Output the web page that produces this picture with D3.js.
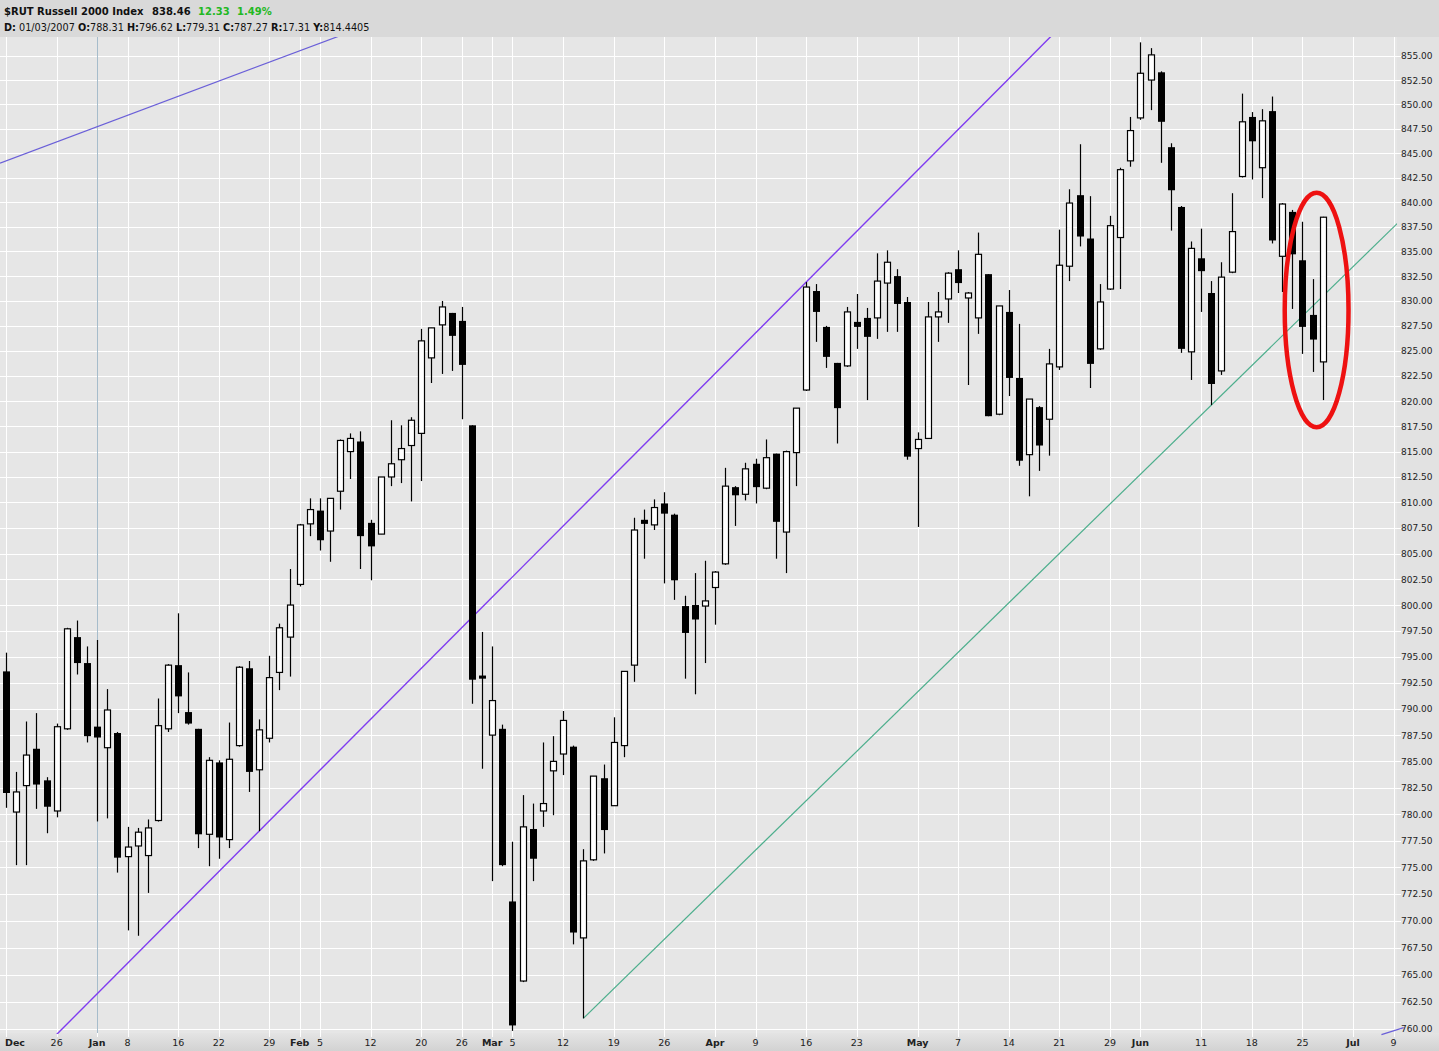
<!DOCTYPE html>
<html><head><meta charset="utf-8">
<script src="https://cdn.jsdelivr.net/npm/d3@7"></script>
<style>body{margin:0;background:#fff;}svg{display:block;}</style>
</head><body>
<svg id="chart" width="1439" height="1051"></svg>
<script>
// ---------------- DATA ----------------
const dates = [
"2006-12-18","2006-12-19","2006-12-20","2006-12-21","2006-12-22","2006-12-26","2006-12-27","2006-12-28","2006-12-29",
"2007-01-03","2007-01-04","2007-01-05","2007-01-08","2007-01-09","2007-01-10","2007-01-11","2007-01-12","2007-01-16","2007-01-17","2007-01-18","2007-01-19","2007-01-22","2007-01-23","2007-01-24","2007-01-25","2007-01-26","2007-01-29","2007-01-30","2007-01-31",
"2007-02-01","2007-02-02","2007-02-05","2007-02-06","2007-02-07","2007-02-08","2007-02-09","2007-02-12","2007-02-13","2007-02-14","2007-02-15","2007-02-16","2007-02-20","2007-02-21","2007-02-22","2007-02-23","2007-02-26","2007-02-27","2007-02-28",
"2007-03-01","2007-03-02","2007-03-05","2007-03-06","2007-03-07","2007-03-08","2007-03-09","2007-03-12","2007-03-13","2007-03-14","2007-03-15","2007-03-16","2007-03-19","2007-03-20","2007-03-21","2007-03-22","2007-03-23","2007-03-26","2007-03-27","2007-03-28","2007-03-29","2007-03-30",
"2007-04-02","2007-04-03","2007-04-04","2007-04-05","2007-04-09","2007-04-10","2007-04-11","2007-04-12","2007-04-13","2007-04-16","2007-04-17","2007-04-18","2007-04-19","2007-04-20","2007-04-23","2007-04-24","2007-04-25","2007-04-26","2007-04-27","2007-04-30",
"2007-05-01","2007-05-02","2007-05-03","2007-05-04","2007-05-07","2007-05-08","2007-05-09","2007-05-10","2007-05-11","2007-05-14","2007-05-15","2007-05-16","2007-05-17","2007-05-18","2007-05-21","2007-05-22","2007-05-23","2007-05-24","2007-05-25","2007-05-29","2007-05-30","2007-05-31",
"2007-06-01","2007-06-04","2007-06-05","2007-06-06","2007-06-07","2007-06-08","2007-06-11","2007-06-12","2007-06-13","2007-06-14","2007-06-15","2007-06-18","2007-06-19","2007-06-20","2007-06-21","2007-06-22","2007-06-25","2007-06-26","2007-06-27"
];
const open = [793.6,780.2,782.7,786.2,783.2,780.3,788.1,796.9,794.4,
788.31,786.3,787.7,776.0,777.0,776.1,779.4,788.1,794.2,789.7,788.1,778.1,784.9,777.6,786.5,793.9,784.2,787.2,793.5,796.9,
802.0,807.9,809.2,807.2,811.1,815.0,816.0,808.0,806.9,812.5,814.2,815.6,816.8,824.3,827.6,828.8,828.0,817.6,793.2,
787.5,788.1,771.8,764.4,778.6,780.3,784.1,785.7,786.4,768.4,775.7,783.4,780.8,786.5,794.2,808.3,807.8,809.9,808.8,799.9,800.0,799.9,
801.7,804.0,811.5,810.8,813.8,811.4,814.8,807.1,814.9,821.1,831.0,827.4,823.8,823.5,827.9,828.3,828.3,831.8,832.5,829.9,
815.3,816.3,828.4,830.2,833.2,830.3,828.3,832.7,818.7,828.9,822.3,814.7,819.4,818.2,823.4,833.5,840.7,836.3,825.2,831.2,836.4,844.2,
848.6,852.5,853.3,845.6,839.5,824.9,834.3,830.8,823.0,832.9,842.6,848.7,843.5,849.3,834.5,839.0,834.1,828.6,823.9];
const high = [795.4,784.0,788.8,789.6,783.5,788.6,797.8,798.5,796.0,
796.62,791.9,787.8,778.8,778.7,779.5,791.0,794.3,799.2,793.5,788.1,785.4,785.1,788.7,794.1,794.6,789.0,795.1,798.2,803.5,
807.9,810.4,810.4,810.4,816.2,816.8,817.0,808.3,812.5,818.1,817.6,818.4,827.2,827.3,830.0,828.8,829.4,817.6,797.4,
796.0,788.5,777.4,781.8,781.0,786.8,787.4,789.8,786.5,776.7,783.6,784.7,789.2,793.6,808.5,809.3,810.3,811.0,808.9,800.9,803.1,804.3,
803.3,813.4,811.6,813.9,814.3,816.2,814.8,815.1,819.3,831.9,831.7,827.5,823.8,829.4,830.7,829.3,834.8,835.1,833.2,830.4,
816.9,829.9,830.9,832.9,835.1,830.9,836.9,832.7,829.5,831.1,827.7,820.2,819.5,825.2,837.2,841.3,845.9,840.6,831.7,838.6,843.5,848.7,
856.4,855.8,853.4,846.0,839.6,836.0,837.3,832.0,833.9,840.9,851.1,849.2,849.5,850.8,839.9,839.2,838.0,832.2,838.5];
const low = [780.6,775.2,775.2,780.5,778.2,779.7,788.0,793.3,786.8,
779.31,779.6,774.5,769.1,768.6,772.6,779.3,787.8,789.6,788.5,776.8,775.1,775.8,776.8,786.4,782.1,778.4,786.8,791.8,793.1,
801.8,806.7,805.3,804.2,809.3,812.3,803.5,802.4,806.9,811.6,811.9,810.1,812.1,821.8,822.7,823.0,818.2,790.5,784.3,
773.7,775.1,759.8,764.3,773.7,778.8,779.9,783.7,767.8,760.95,775.6,776.3,780.8,785.4,792.6,804.5,807.3,802.1,800.5,792.9,791.4,794.4,
798.1,803.9,807.7,810.2,809.9,811.3,804.5,803.1,811.6,821.0,825.9,823.3,815.8,823.4,825.2,820.1,826.2,826.9,826.9,814.2,
807.6,816.3,825.9,827.8,830.8,821.6,826.7,818.5,818.6,820.5,813.6,810.6,813.1,814.6,823.1,832.0,835.5,821.3,825.1,831.1,831.2,843.6,
848.4,849.4,844.0,837.1,824.8,822.1,828.9,819.6,822.6,832.8,842.5,842.3,840.4,835.8,830.9,829.2,824.7,822.9,820.1];
const close = [782.0,782.1,785.6,782.8,780.7,788.3,797.7,794.4,787.4,
787.27,789.9,775.9,776.9,778.3,778.7,788.4,794.2,791.2,788.6,778.1,785.1,777.8,785.2,794.0,784.0,788.0,793.0,797.8,800.0,
807.8,809.3,806.3,810.4,816.1,816.3,806.7,805.7,812.5,813.8,815.3,818.1,826.0,827.3,829.4,826.5,823.6,792.8,792.9,
790.8,775.2,760.3,778.8,775.8,781.0,785.0,788.9,768.9,775.6,783.6,778.5,786.8,793.6,807.3,807.9,809.5,808.9,802.4,797.3,798.6,800.4,
803.2,811.6,810.7,813.3,811.5,814.4,808.1,815.0,819.3,831.4,828.9,824.4,819.3,828.9,827.4,826.4,832.0,833.9,829.7,814.5,
816.2,828.4,828.9,832.8,831.8,830.8,834.7,818.5,829.5,822.3,814.1,820.2,815.6,823.7,833.6,839.9,836.5,823.7,829.9,837.6,843.3,847.3,
853.2,855.1,848.2,841.2,825.2,835.3,833.0,821.7,832.4,837.0,848.2,846.2,848.3,836.1,839.8,834.7,827.4,826.13,838.46];

// x-axis ticks: trading-day index, label, month flag
const xTickIndex = [0,5,9,12,17,21,26,29,31,36,41,45,48,50,55,60,65,70,74,79,84,90,94,99,104,109,112,118,123,128,133,137];
const xTickLabel = ["Dec","26","Jan","8","16","22","29","Feb","5","12","20","26","Mar","5","12","19","26","Apr","9","16","23","May","7","14","21","29","Jun","11","18","25","Jul","9"];
const xTickMonth = [1,0,1,0,0,0,0,1,0,0,0,0,1,0,0,0,0,1,0,0,0,1,0,0,0,0,1,0,0,0,1,0];
// y-axis ticks
const yTicks = [760,762.5,765,767.5,770,772.5,775,777.5,780,782.5,785,787.5,790,792.5,795,797.5,800,802.5,805,807.5,810,812.5,815,817.5,820,822.5,825,827.5,830,832.5,835,837.5,840,842.5,845,847.5,850,852.5,855];
// trend lines (index, value anchors)
const purpleLine = [[25,778.4],[79,831.9]];
const greenLine = [[57,760.95],[119,819.6]];
const channelTopLine = [[0,844.2],[32,856.7]];
const channelBottomLine = [[135.8,759.45],[138.0,760.1]];
// annotation ellipse (index range, value range)
const ellipseIdx = [126.25, 132.55];
const ellipseVal = [840.95, 817.4];
const selectedIndex = 9;

// header
const headerTitle = "$RUT Russell 2000 Index";
const headerLast = "838.46", headerChg = "12.33", headerPct = "1.49%";
const headerInfo = [["D:"," 01/03/2007 "],["O:","788.31 "],["H:","796.62 "],["L:","779.31 "],["C:","787.27 "],["R:","17.31 "],["Y:","814.4405"]];

// ---------------- DRAW ----------------
const W = 1439, H = 1051;
const plotL = 0, plotR = 1397, plotT = 37, plotB = 1033;
const svg = d3.select("#chart");
const x = d3.scaleLinear().domain([0,130]).range([6,1322.7]);
const y = d3.scaleLog().domain([760,850]).range([1028.7,104.3]);

svg.append("rect").attr("width",W).attr("height",H).attr("fill","#dedede");
svg.append("rect").attr("x",0).attr("y",0).attr("width",W).attr("height",plotT).attr("fill","#d9d9d9");
svg.append("rect").attr("x",plotL).attr("y",plotT).attr("width",plotR-plotL).attr("height",plotB-plotT).attr("fill","#e6e6e6");
svg.append("rect").attr("x",plotR).attr("y",plotT).attr("width",W-plotR).attr("height",plotB-plotT).attr("fill","#e2e2e2");
const defs = svg.append("defs");
const grad = defs.append("linearGradient").attr("id","bg").attr("x1",0).attr("y1",0).attr("x2",0).attr("y2",1);
grad.append("stop").attr("offset","0%").attr("stop-color","#e4e4e4");
grad.append("stop").attr("offset","100%").attr("stop-color","#d2d2d2");
svg.append("rect").attr("x",0).attr("y",plotB).attr("width",W).attr("height",H-plotB).attr("fill","url(#bg)");

defs.append("clipPath").attr("id","clip").append("rect")
  .attr("x",plotL).attr("y",plotT).attr("width",plotR-plotL).attr("height",plotB-plotT+1);

// gridlines
const grid = svg.append("g");
grid.selectAll("line.h").data(yTicks).join("line")
  .attr("x1",plotL).attr("x2",plotR+4)
  .attr("y1",d=>Math.round(y(d))+0.5).attr("y2",d=>Math.round(y(d))+0.5)
  .attr("stroke","#ffffff").attr("stroke-width",1);
grid.selectAll("line.v").data(xTickIndex.filter(i=>x(i)<plotR)).join("line")
  .attr("x1",d=>Math.round(x(d))+0.5).attr("x2",d=>Math.round(x(d))+0.5)
  .attr("y1",plotT).attr("y2",plotB+4)
  .attr("stroke","#ffffff").attr("stroke-width",1);

// y-axis labels
const yAx = svg.append("g");
yAx.selectAll("text").data(yTicks).join("text")
  .attr("x",1401).attr("y",d=>y(d)+3.5)
  .attr("font-family","DejaVu Sans, Verdana, sans-serif").attr("font-size",9)
  .attr("fill","#222").text(d=>d.toFixed(2));

// x-axis labels
const xAx = svg.append("g");
xTickIndex.forEach((idx,k)=>{
  const px = x(idx);
  const t = xAx.append("text")
    .attr("y",1046)
    .attr("font-family","DejaVu Sans, Verdana, sans-serif")
    .attr("font-size",9.5)
    .attr("font-weight",xTickMonth[k]?"bold":"normal")
    .attr("fill","#222").text(xTickLabel[k]);
  if (px < 15) t.attr("x",5).attr("text-anchor","start");
  else t.attr("x",px).attr("text-anchor","middle");
});

const plot = svg.append("g").attr("clip-path","url(#clip)");
plot.append("line").attr("x1",Math.round(x(selectedIndex))+0.5).attr("x2",Math.round(x(selectedIndex))+0.5)
  .attr("y1",plotT).attr("y2",plotB).attr("stroke","#a6bccb").attr("stroke-width",1);

function extLine(anchors, xa, xb, color, w){
  const p1=[x(anchors[0][0]),y(anchors[0][1])], p2=[x(anchors[1][0]),y(anchors[1][1])];
  const m=(p2[1]-p1[1])/(p2[0]-p1[0]);
  const f=px=>p1[1]+m*(px-p1[0]);
  plot.append("line").attr("x1",xa).attr("y1",f(xa)).attr("x2",xb).attr("y2",f(xb))
    .attr("stroke",color).attr("stroke-width",w);
}
extLine(purpleLine, 0, plotR, "#7f3cf0", 1.4);
extLine(greenLine, x(greenLine[0][0]), plotR+2, "#4cae8c", 1.2);
extLine(channelTopLine, 0, 400, "#6a5fd8", 1.2);

// candles
const idx = d3.range(dates.length);
const cg = plot.append("g");
cg.selectAll("line.wick").data(idx).join("line")
  .attr("x1",i=>Math.round(x(i))+0.5).attr("x2",i=>Math.round(x(i))+0.5)
  .attr("y1",i=>y(high[i])).attr("y2",i=>y(low[i]))
  .attr("stroke","#000").attr("stroke-width",1.2);
cg.selectAll("rect.body").data(idx).join("rect")
  .attr("x",i=>Math.round(x(i))-3+(close[i]>=open[i]?0.5:0))
  .attr("width",i=>close[i]>=open[i]?6:7)
  .attr("y",i=>y(Math.max(open[i],close[i])))
  .attr("height",i=>Math.max(1.5,Math.abs(y(open[i])-y(close[i]))))
  .attr("fill",i=>close[i]>=open[i]?"#ffffff":"#000000")
  .attr("stroke",i=>close[i]>=open[i]?"#000":"none").attr("stroke-width",1.2);

{
  const p1=[x(channelBottomLine[0][0]),y(channelBottomLine[0][1])], p2=[x(channelBottomLine[1][0]),y(channelBottomLine[1][1])];
  svg.append("line").attr("x1",p1[0]).attr("y1",p1[1]).attr("x2",p2[0]).attr("y2",p2[1]).attr("stroke","#6a5fd8").attr("stroke-width",1.2);
}

{
  const cx=(x(ellipseIdx[0])+x(ellipseIdx[1]))/2, cy=(y(ellipseVal[0])+y(ellipseVal[1]))/2;
  const rx=(x(ellipseIdx[1])-x(ellipseIdx[0]))/2, ry=(y(ellipseVal[1])-y(ellipseVal[0]))/2;
  svg.append("ellipse").attr("cx",cx).attr("cy",cy).attr("rx",rx).attr("ry",ry)
    .attr("fill","none").attr("stroke","#ee1111").attr("stroke-width",4.5);
}

const hf = "DejaVu Sans, Verdana, sans-serif";
const h1 = svg.append("g").attr("font-family",hf).attr("font-size",10).attr("font-weight","bold");
h1.append("text").attr("x",4).attr("y",15).attr("fill","#111").text(headerTitle);
h1.append("text").attr("x",152).attr("y",15).attr("fill","#111").text(headerLast);
h1.append("text").attr("x",198).attr("y",15).attr("fill","#22b822").text(headerChg);
h1.append("text").attr("x",237).attr("y",15).attr("fill","#22b822").text(headerPct);
const h2 = svg.append("text").attr("x",4).attr("y",30.5).attr("font-family",hf).attr("font-size",9.7).attr("fill","#111");
headerInfo.forEach(([k,v])=>{
  h2.append("tspan").attr("font-weight","bold").text(k);
  h2.append("tspan").text(v);
});
</script>
</body></html>
